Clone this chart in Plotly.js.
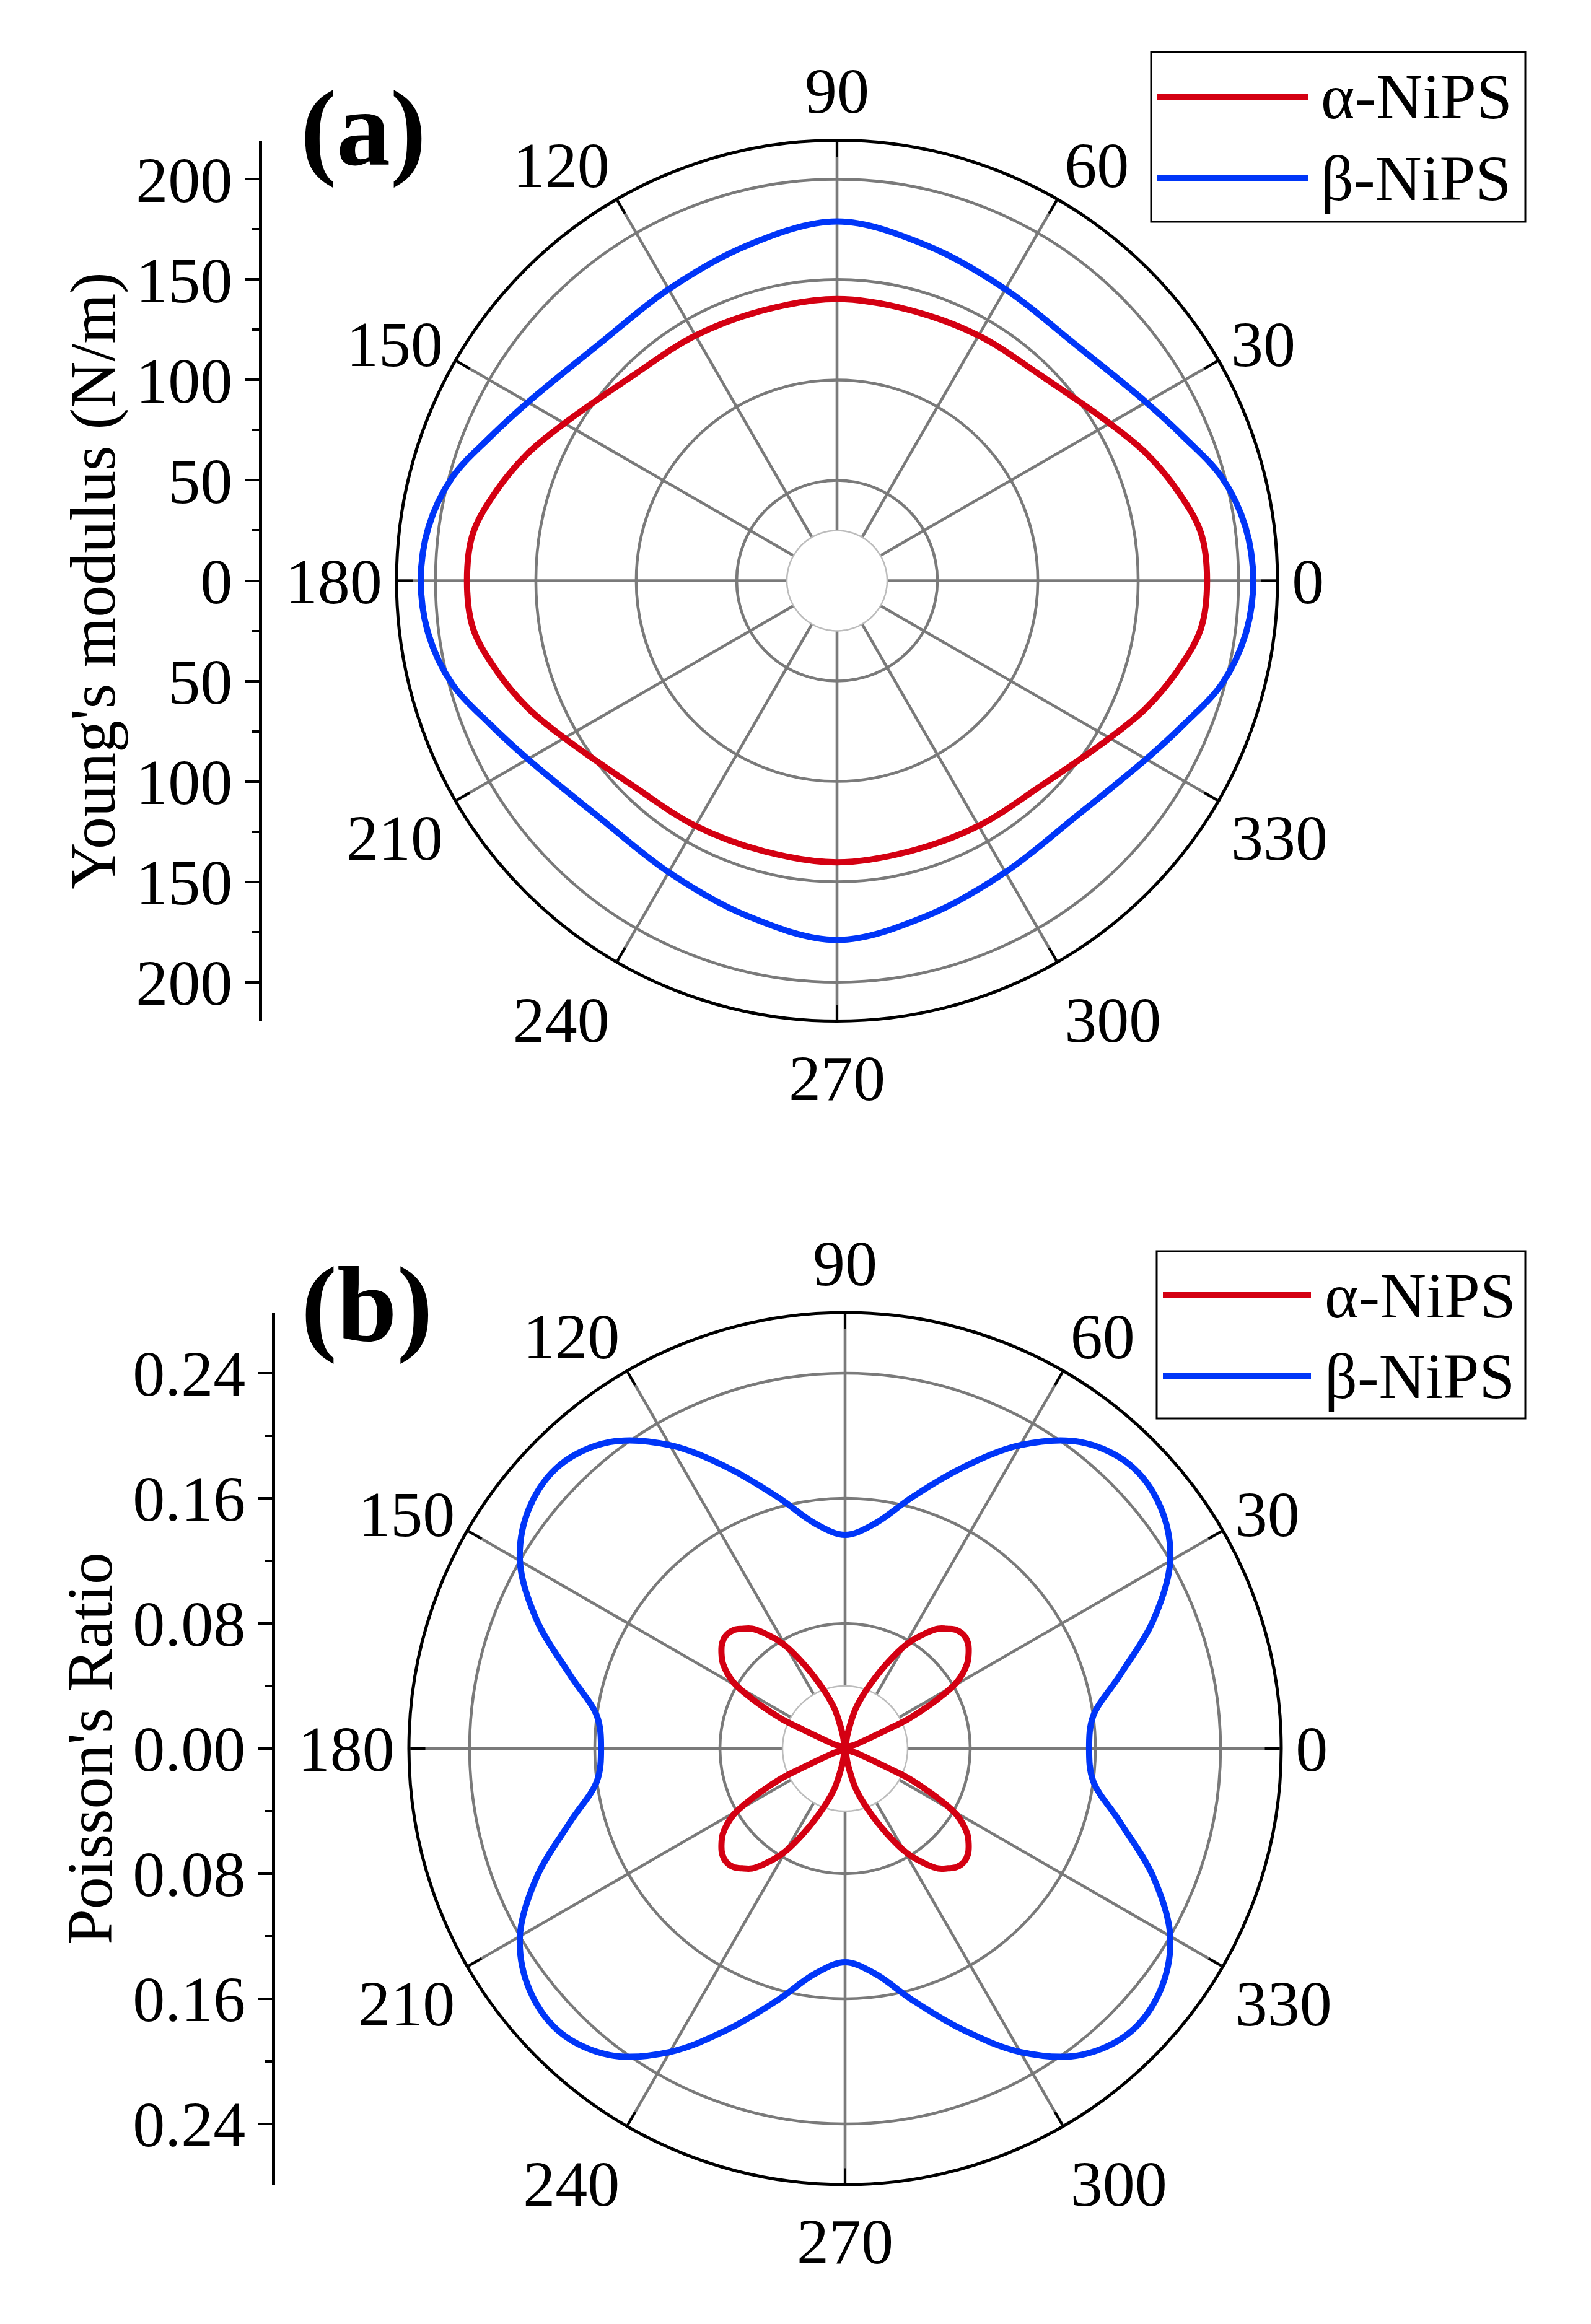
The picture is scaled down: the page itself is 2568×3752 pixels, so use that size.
<!DOCTYPE html>
<html lang="en">
<head>
<meta charset="utf-8">
<title>NiPS Young's modulus and Poisson's ratio</title>
<script src="https://cdn.plot.ly/plotly-3.0.1.min.js"></script>
<style>
    html, body { margin: 0; padding: 0; background: #fff; }
    #plot { width: 2568px; height: 3752px; }
</style>
</head>
<body>
<div id="plot"></div>
<script>
    // Readings for the first quadrant (angle in deg). Both panels are mirror
    // symmetric about the 0 and 90 deg axes, so the rest is reflected.
    const ymTheta = [0, 7.5, 15, 22.5, 30, 45, 60, 75, 90];
    const ymAlpha = [184.3, 182.8, 175.2, 166.4, 156.8, 144.2, 141.0, 139.6, 140.3];
    const ymBeta = [207.3, 205.2, 198.5, 187.0, 177.8, 167.1, 167.7, 172.9, 179.0];

    const prThetaAlpha = [0, 21.5, 24.2, 25.0, 26.6, 28.1, 30.7, 34.8, 37.6, 40.6, 43.7,
        46.8, 49.3, 52.2, 54.7, 59.3, 64.0, 70.3, 75.3, 78.0, 80.5, 90];
    const prAlpha = [0, 0.008, 0.029, 0.044, 0.056, 0.067, 0.083, 0.095, 0.0997, 0.1035, 0.105,
        0.104, 0.101, 0.097, 0.091, 0.078, 0.060, 0.039, 0.026, 0.016, 0.008, 0];
    const prThetaBeta = [0, 7.5, 15, 22.5, 30, 37.5, 45, 52.5, 60, 67.5, 75, 82.5, 90];
    const prBeta = [0.156, 0.160, 0.182, 0.213, 0.240, 0.254, 0.257, 0.247, 0.224, 0.194,
        0.1665, 0.145, 0.1366];

    const seriesNames = ['\u03b1-NiPS', '\u03b2-NiPS'];
    const seriesColors = ['#d40012', '#0036f8'];

    const angleTicks = [0, 30, 60, 90, 120, 150, 180, 210, 240, 270, 300, 330];
    const angleText = ['0', '30', '60', '90', '120', '150', '180', '210', '240', '270', '300', '330'];
    const ymTicks = [-200, -150, -100, -50, 0, 50, 100, 150, 200];
    const ymTickText = ['200', '150', '100', '50', '0', '50', '100', '150', '200'];
    const prTicks = [-0.24, -0.16, -0.08, 0, 0.08, 0.16, 0.24];
    const prTickText = ['0.24', '0.16', '0.08', '0.00', '0.08', '0.16', '0.24'];

    const ymMax = 219.4;   // value at the outer ring
    const prMax = 0.2788;
    const ymHole = 25;     // blank disc in the middle of each dial
    const prHole = 0.04;

    const W = 2568, H = 3752;
    const serif = 'Liberation Serif, Times New Roman, serif';
    const darkGrid = '#7a7a7a';
    const lightGrid = '#bcbcbc';

    // reflect quadrant readings into a closed curve over 0..360
    function fullTurn(theta, r) {
        const t = theta.slice(), v = r.slice();
        const n = theta.length;
        for (let i = n - 2; i >= 0; i--) { t.push(180 - theta[i]); v.push(r[i]); }
        for (let i = 1; i < n; i++) { t.push(180 + theta[i]); v.push(r[i]); }
        for (let i = n - 2; i > 0; i--) { t.push(360 - theta[i]); v.push(r[i]); }
        t.push(360); v.push(r[0]);
        return { theta: t, r: v };
    }

    function curve(theta, r, idx, subplot) {
        const c = fullTurn(theta, r);
        return {
            type: 'scatterpolar', subplot: subplot, theta: c.theta, r: c.r,
            mode: 'lines', name: seriesNames[idx], showlegend: false,
            line: { color: seriesColors[idx], width: 10, shape: 'spline', smoothing: 1 }
        };
    }

    function holeDisc(r, subplot) {
        const t = [], v = [];
        for (let a = 0; a <= 360; a += 4) { t.push(a); v.push(r); }
        return {
            type: 'scatterpolar', subplot: subplot, theta: t, r: v, mode: 'lines',
            fill: 'toself', fillcolor: '#ffffff', line: { color: lightGrid, width: 2.5 },
            hoverinfo: 'skip', showlegend: false
        };
    }

    function px(x) { return x / W; }
    function py(y) { return 1 - y / H; }

    // a square dial from its centre and radius in pixels
    function dialDomain(cx, cy, rad) {
        return { x: [px(cx - rad), px(cx + rad)], y: [py(cy + rad), py(cy - rad)] };
    }

    function lightDial(dom, rMax, rings) {
        return {
            domain: dom, bgcolor: '#ffffff',
            radialaxis: {
                range: [0, rMax], tickvals: rings, showticklabels: false, ticks: '',
                showline: false, gridcolor: lightGrid, gridwidth: 2.5
            },
            angularaxis: {
                tickmode: 'linear', tick0: 15, dtick: 30, showticklabels: false,
                ticks: 'inside', ticklen: 12, tickwidth: 3, tickcolor: '#000',
                showline: false, gridcolor: lightGrid, gridwidth: 2.5
            }
        };
    }

    function darkDial(dom, rMax, rings) {
        return {
            domain: dom, bgcolor: 'rgba(0,0,0,0)',
            radialaxis: {
                range: [0, rMax], tickvals: rings, showticklabels: false, ticks: '',
                showline: false, gridcolor: darkGrid, gridwidth: 4.6
            },
            angularaxis: {
                tickmode: 'array', tickvals: angleTicks, ticktext: angleText,
                ticksuffix: '', showticksuffix: 'none',
                ticks: 'inside', ticklen: 24, tickwidth: 4, tickcolor: '#000',
                showline: true, linecolor: '#000', linewidth: 5,
                gridcolor: darkGrid, gridwidth: 4.6,
                tickfont: { family: serif, size: 104, color: '#000' }
            }
        };
    }

    function leftAxis(dom, rMax, vals, text, minorStep, title) {
        return {
            anchor: dom.anchor, domain: dom.y, range: [-rMax, rMax],
            tickmode: 'array', tickvals: vals, ticktext: text,
            ticks: 'outside', ticklen: 22, tickwidth: 4, tickcolor: '#000',
            showline: true, linecolor: '#000', linewidth: 5,
            showgrid: false, zeroline: false, fixedrange: true,
            tickfont: { family: serif, size: 104, color: '#000' },
            minor: {
                tickmode: 'linear', tick0: 0, dtick: minorStep, ticks: 'outside',
                ticklen: 12, tickwidth: 4, tickcolor: '#000', showgrid: false
            },
            title: { text: title, font: { family: serif, size: 104, color: '#000' }, standoff: 0 }
        };
    }

    const domA = dialDomain(1351, 937.5, 711);
    const domB = dialDomain(1364, 2823, 704);

    const data = [
        { type: 'scatter', x: [], y: [], xaxis: 'x', yaxis: 'y', showlegend: false, hoverinfo: 'skip' },
        { type: 'scatter', x: [], y: [], xaxis: 'x2', yaxis: 'y2', showlegend: false, hoverinfo: 'skip' },
        holeDisc(ymHole, 'polar2'),
        curve(ymTheta, ymAlpha, 0, 'polar2'),
        curve(ymTheta, ymBeta, 1, 'polar2'),
        holeDisc(prHole, 'polar4'),
        curve(prThetaAlpha, prAlpha, 0, 'polar4'),
        curve(prThetaBeta, prBeta, 1, 'polar4')
    ];

    // legend boxes drawn by hand so the line samples can be long
    const shapes = [];
    const annotations = [];
    function legendBox(x0, y0, x1, y1, lineX0, lineX1, rows, textX) {
        shapes.push({
            type: 'rect', xref: 'paper', yref: 'paper', x0: px(x0), x1: px(x1), y0: py(y1), y1: py(y0),
            line: { color: '#000', width: 3 }, fillcolor: 'rgba(0,0,0,0)'
        });
        rows.forEach(function (rowY, i) {
            shapes.push({
                type: 'line', xref: 'paper', yref: 'paper', x0: px(lineX0), x1: px(lineX1),
                y0: py(rowY), y1: py(rowY), line: { color: seriesColors[i], width: 10 }
            });
            annotations.push({
                xref: 'paper', yref: 'paper', x: px(textX), y: py(rowY), xanchor: 'left', yanchor: 'middle',
                text: seriesNames[i], showarrow: false, font: { family: serif, size: 104, color: '#000' }
            });
        });
    }
    legendBox(1858, 84, 2462, 358, 1868, 2111, [156, 287], 2130);
    legendBox(1867, 2020, 2462, 2290, 1877, 2116, [2091, 2221], 2136);

    annotations.push({
        xref: 'paper', yref: 'paper', x: px(586), y: py(207), xanchor: 'center', yanchor: 'middle',
        text: '(a)', showarrow: false, font: { family: serif, size: 174, color: '#000', weight: 'bold' }
    });
    annotations.push({
        xref: 'paper', yref: 'paper', x: px(592), y: py(2106), xanchor: 'center', yanchor: 'middle',
        text: '(b)', showarrow: false, font: { family: serif, size: 174, color: '#000', weight: 'bold' }
    });

    const layout = {
        width: W, height: H, margin: { l: 0, r: 0, t: 0, b: 0 },
        paper_bgcolor: '#ffffff', plot_bgcolor: 'rgba(0,0,0,0)', showlegend: false,
        polar: lightDial(domA, ymMax, [75, 125, 175]),
        polar2: darkDial(domA, ymMax, [50, 100, 150, 200]),
        polar3: lightDial(domB, prMax, [0.12, 0.20]),
        polar4: darkDial(domB, prMax, [0.08, 0.16, 0.24]),
        xaxis: { domain: [px(423), px(423) + 0.01], visible: false, fixedrange: true },
        yaxis: leftAxis({ anchor: 'x', y: domA.y }, ymMax, ymTicks, ymTickText, 25, "Young's modulus (N/m)"),
        xaxis2: { domain: [px(444), px(444) + 0.01], visible: false, fixedrange: true, anchor: 'y2' },
        yaxis2: leftAxis({ anchor: 'x2', y: domB.y }, prMax, prTicks, prTickText, 0.04, "Poisson's Ratio"),
        shapes: shapes,
        annotations: annotations
    };

    Plotly.newPlot('plot', data, layout, { staticPlot: true });
</script>
</body>
</html>
